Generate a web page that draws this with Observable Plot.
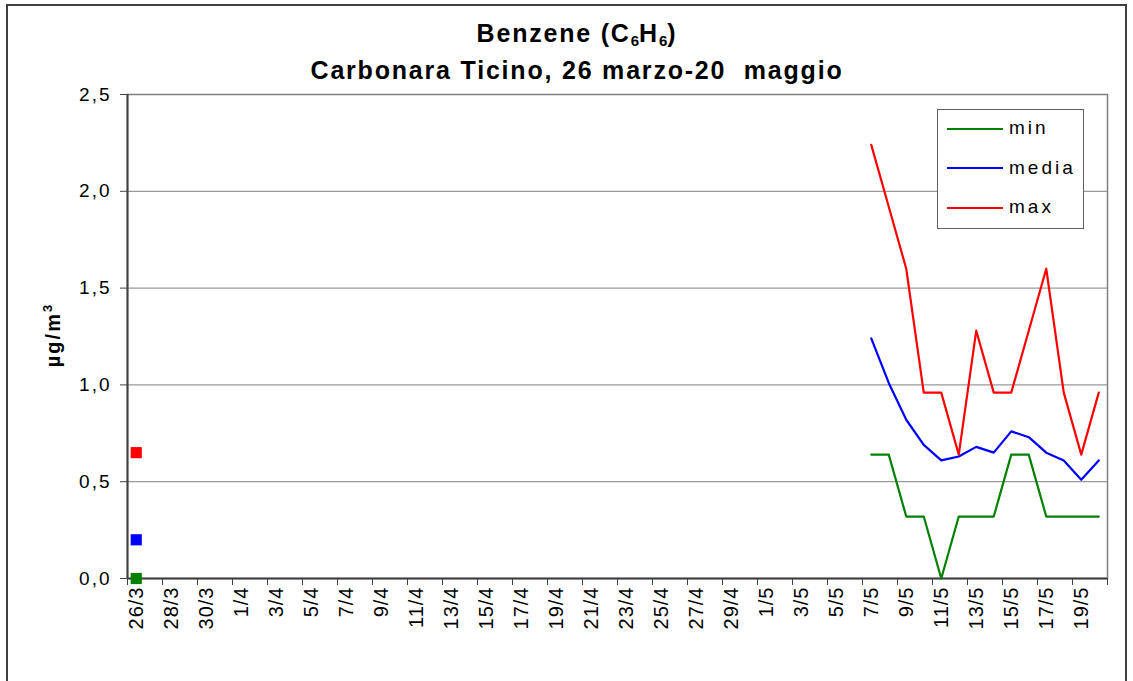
<!DOCTYPE html>
<html>
<head>
<meta charset="utf-8">
<script src="https://cdn.jsdelivr.net/npm/d3@7"></script>
<script src="https://cdn.jsdelivr.net/npm/@observablehq/plot@0.6"></script>
<style>
  html, body { margin: 0; padding: 0; background: #fff; }
  body { font-family: "Liberation Sans", Arial, sans-serif; }
  #wrap { position: relative; width: 1133px; height: 681px; overflow: hidden; }
  #border { position: absolute; left: 6px; top: 4px; width: 1121px; height: 690px; border: 2px solid #404040; box-sizing: border-box; }
  .title { position: absolute; left: 0; width: 1154px; text-align: center; font-weight: bold; font-size: 25px; letter-spacing: 1.8px; color: #000; line-height: 30px; }
  .title sub { font-size: 15px; vertical-align: -4px; line-height: 0; letter-spacing: 0; }
  #ylabel { position: absolute; left: 53px; top: 335px; transform: translate(-50%, -50%) rotate(-90deg); font-weight: bold; font-size: 20px; letter-spacing: 2px; white-space: nowrap; }
  #ylabel sup { font-size: 13px; vertical-align: 8px; line-height: 0; }
  #legend { position: absolute; left: 937px; top: 109px; width: 147px; height: 120px; border: 1.5px solid #606060; box-sizing: border-box; background: #fff; }
  .leg { position: absolute; left: 9px; font-size: 19px; height: 20px; line-height: 20px; letter-spacing: 3px; white-space: nowrap; }
  .leg span.sw { display: inline-block; width: 56px; height: 0; border-top: 2px solid; vertical-align: middle; margin-right: 6px; }
  #chart { position: absolute; left: 0; top: 0; }
  g[aria-label="y-axis tick label"] text { letter-spacing: 2px; }
  g[aria-label="x-axis tick label"] text { letter-spacing: 1px; }
</style>
</head>
<body>
<div id="wrap">
  <div id="chart"></div>
  <div id="border"></div>
  <div class="title" style="top:18px;">Benzene (C<sub>6</sub>H<sub>6</sub>)</div>
  <div class="title" style="top:55px;">Carbonara Ticino, 26 marzo-20&nbsp; maggio</div>
  <div id="ylabel">µg/m<sup>3</sup></div>
  <div id="legend"></div>
</div>
<script>
// Category axis: every day from 26/3 to 20/5
const allDates = [
  "26/3","27/3","28/3","29/3","30/3","31/3",
  "1/4","2/4","3/4","4/4","5/4","6/4","7/4","8/4","9/4","10/4",
  "11/4","12/4","13/4","14/4","15/4","16/4","17/4","18/4","19/4","20/4",
  "21/4","22/4","23/4","24/4","25/4","26/4","27/4","28/4","29/4","30/4",
  "1/5","2/5","3/5","4/5","5/5","6/5","7/5","8/5","9/5","10/5",
  "11/5","12/5","13/5","14/5","15/5","16/5","17/5","18/5","19/5","20/5"
];

// Days with measurements
const measuredDates = ["26/3","7/5","8/5","9/5","10/5","11/5","12/5","13/5","14/5","15/5","16/5","17/5","18/5","19/5","20/5"];
const minValues   = [0.00, 0.64, 0.64, 0.32, 0.32, 0.00, 0.32, 0.32, 0.32, 0.64, 0.64, 0.32, 0.32, 0.32, 0.32];
const mediaValues = [0.20, 1.24, 1.01, 0.82, 0.69, 0.61, 0.63, 0.68, 0.65, 0.76, 0.73, 0.65, 0.61, 0.51, 0.61];
const maxValues   = [0.65, 2.24, 1.92, 1.60, 0.96, 0.96, 0.64, 1.28, 0.96, 0.96, 1.28, 1.60, 0.96, 0.64, 0.96];

const seriesNames  = ["min", "media", "max"];
const seriesColors = ["#008000", "#0000ff", "#ff0000"];
const seriesValues = [minValues, mediaValues, maxValues];

const yTicks = [0, 0.5, 1.0, 1.5, 2.0, 2.5];

// Build rows with segment ids (break where days are missing)
const rows = [];
seriesNames.forEach((name, s) => {
  let seg = 0, prev = null;
  measuredDates.forEach((d, i) => {
    const idx = allDates.indexOf(d);
    if (prev !== null && idx - prev > 1) seg++;
    prev = idx;
    rows.push({series: name, idx, value: seriesValues[s][i], key: name + "-" + seg});
  });
});
const segCount = d3.rollup(rows, v => v.length, r => r.key);
const lineRows = rows.filter(r => segCount.get(r.key) > 1);
const pointRows = rows.filter(r => segCount.get(r.key) === 1);

const labelTicks = d3.range(0, allDates.length, 2);
const markTicks = d3.range(-0.5, allDates.length - 1, 2).concat([allDates.length - 0.5]);
const fmt = d => d.toFixed(1).replace(".", ",");

const chart = Plot.plot({
  width: 1133,
  height: 681,
  marginLeft: 127,
  marginRight: 26,
  marginTop: 94,
  marginBottom: 103,
  style: {fontFamily: "'Liberation Sans', Arial, sans-serif", fontSize: "18px", color: "#000", background: "transparent"},
  x: {type: "linear", domain: [-0.5, allDates.length - 0.5]},
  y: {domain: [0, 2.5]},
  color: {domain: seriesNames, range: seriesColors},
  marks: [
    Plot.gridY(yTicks, {stroke: "#808080", strokeOpacity: 1, strokeWidth: 1}),
    Plot.frame({stroke: "#808080", strokeWidth: 1.5}),
    Plot.ruleX([-0.5], {stroke: "#404040", strokeWidth: 2}),
    Plot.ruleY([0], {stroke: "#404040", strokeWidth: 2}),
    Plot.axisY(yTicks, {tickFormat: fmt, tickSize: 7, tickPadding: 9, fontSize: 19, label: null, stroke: "#404040"}),
    Plot.axisX(markTicks, {tickFormat: () => "", tickSize: 7, label: null, stroke: "#404040"}),
    Plot.axisX(labelTicks, {tickFormat: i => allDates[i], tickSize: 0, tickPadding: 8, tickRotate: -90, fontSize: 20, label: null}),
    Plot.line(lineRows, {x: "idx", y: "value", z: "key", stroke: "series", strokeWidth: 2.2, curve: "linear"}),
    Plot.dot(pointRows, {x: "idx", y: "value", fill: "series", symbol: "square", r: 6.3, stroke: "none"})
  ]
});
document.getElementById("chart").appendChild(chart);

// Legend
const legend = document.getElementById("legend");
seriesNames.forEach((name, i) => {
  const el = document.createElement("div");
  el.className = "leg";
  el.style.top = (8 + i * 39.5) + "px";
  el.innerHTML = `<span class="sw" style="border-color:${seriesColors[i]}"></span>${name}`;
  legend.appendChild(el);
});
</script>
</body>
</html>
